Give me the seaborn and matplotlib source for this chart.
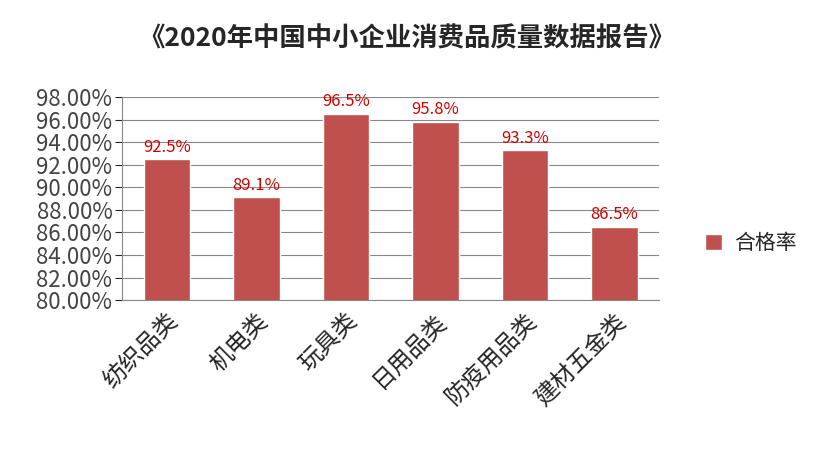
import matplotlib.pyplot as plt
import seaborn as sns
import pandas as pd

categories = ['纺织品类', '机电类', '玩具类', '日用品类', '防疫用品类', '建材五金类']
rates = [92.5, 89.1, 96.5, 95.8, 93.3, 86.5]
yticks = [80, 82, 84, 86, 88, 90, 92, 94, 96, 98]

sns.set_style('white')
plt.rcParams['font.family'] = ['Noto Sans CJK SC', 'DejaVu Sans']

df = pd.DataFrame({'cat': categories, 'rate': rates, 's': '合格率'})

fig = plt.figure(figsize=(8.14, 4.66), dpi=100)
ax = fig.add_axes([0.15, 0.356, 0.66, 0.436])
sns.barplot(data=df, x='cat', y='rate', hue='s', palette=['#c0504d'],
            width=0.52, ax=ax, saturation=1)

ax.set_ylim(80, 98)
ax.set_yticks(yticks)
ax.set_yticklabels([f'{v:.2f}%' for v in yticks], fontsize=16, color='#444444')
ax.yaxis.grid(True, color='#888888', linewidth=0.8)
ax.set_axisbelow(True)
ax.tick_params(axis='y', left=True, length=5, pad=2)
ax.set_xlabel('')
ax.set_ylabel('')
plt.setp(ax.get_xticklabels(), rotation=45, ha='right', rotation_mode='anchor', fontsize=17)
for s in ['top', 'right']:
    ax.spines[s].set_visible(False)
ax.spines['left'].set_color('#888888')
ax.spines['bottom'].set_color('#888888')

for i, v in enumerate(rates):
    ax.text(i, v + 0.3, f'{v}%', ha='center', va='bottom', color='#d00000', fontsize=12)

ax.legend(loc='center left', bbox_to_anchor=(1.05, 0.28), frameon=False,
          fontsize=15, handlelength=0.8, handleheight=0.8, handletextpad=0.6)

fig.suptitle('《2020年中国中小企业消费品质量数据报告》', y=0.945, fontsize=19, fontweight='bold')
fig.savefig('out.png')
